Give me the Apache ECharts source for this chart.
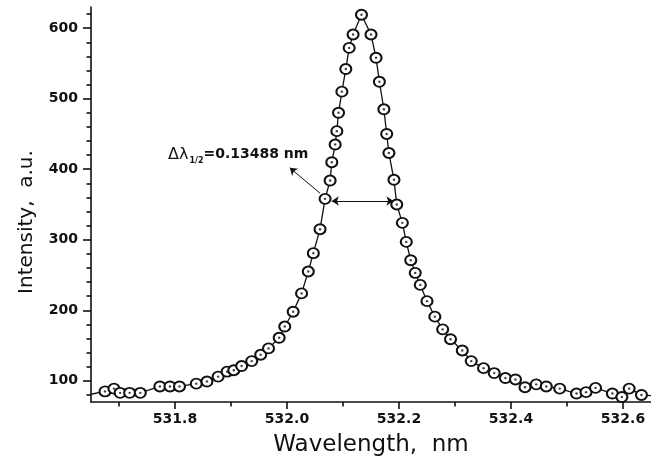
<!DOCTYPE html>
<html>
<head>
<meta charset="utf-8">
<script src="https://cdn.jsdelivr.net/npm/echarts@6/dist/echarts.min.js"></script>
<style>
  html, body { margin: 0; background: #fff; }
  #chart { width: 651px; height: 462px; }
</style>
</head>
<body>
<div id="chart"></div>
<script>
// measured spectrum points (nm, a.u.)
const wavelength = [
  531.675, 531.691, 531.702, 531.719, 531.738, 531.773, 531.791, 531.808, 531.838, 531.857,
  531.877, 531.893, 531.905, 531.919, 531.937, 531.953, 531.967, 531.986, 531.996, 532.011,
  532.026, 532.038, 532.047, 532.059, 532.068, 532.077, 532.080, 532.086, 532.089, 532.092,
  532.098, 532.105, 532.111, 532.118, 532.133, 532.150, 532.159, 532.165, 532.173, 532.178,
  532.182, 532.191, 532.196, 532.206, 532.213, 532.221, 532.229, 532.238, 532.250, 532.264,
  532.278, 532.292, 532.313, 532.329, 532.351, 532.370, 532.390, 532.408, 532.425, 532.445,
  532.463, 532.487, 532.517, 532.534, 532.551, 532.581, 532.598, 532.611, 532.633
];
const intensity = [
  85, 89, 83, 83, 83, 92, 92, 92, 96, 99,
  106, 113, 115, 121, 128, 137, 146, 161, 177, 198,
  224, 255, 281, 315, 358, 384, 410, 435, 454, 480,
  510, 542, 572, 591, 619, 591, 558, 524, 485, 450,
  423, 385, 350, 324, 297, 271, 253, 236, 213, 191,
  173, 159, 143, 128, 118, 111, 104, 102, 91, 95,
  92, 89, 82, 84, 90, 82, 77, 89, 80
];
// where the trace meets the frame on both sides
const traceStart = [531.65, 81];
const traceEnd = [532.65, 79];

const xLabelTicks = [531.8, 532.0, 532.2, 532.4, 532.6];
const xMinorTicks = [531.7, 531.9, 532.1, 532.3, 532.5];
const yLabelTicks = [100, 200, 300, 400, 500, 600];
const yMinorTicks = [80, 120, 140, 160, 180, 220, 240, 260, 280, 320, 340, 360, 380,
  420, 440, 460, 480, 520, 540, 560, 580, 620];

// half-maximum width marker and its note
const fwhmFrom = [532.080, 355];
const fwhmTo = [532.190, 355];
const pointerFrom = [532.059, 366];
const pointerTo = [532.005, 402];
const noteAt = [531.7875, 421];

const ink = '#111';
const font = 'DejaVu Sans';

const points = wavelength.map((w, i) => [w, intensity[i]]);
const traceData = [
  { value: traceStart, symbol: 'none' },
  ...points,
  { value: traceEnd, symbol: 'none' },
];

const chart = echarts.init(document.getElementById('chart'));

chart.setOption({
  animation: false,
  backgroundColor: '#fff',
  textStyle: { fontFamily: font, color: ink },
  grid: { left: 91, right: 0, top: 7, bottom: 56 },
  xAxis: [
    {
      type: 'value',
      min: 531.65,
      max: 532.65,
      name: 'Wavelength,  nm',
      nameLocation: 'middle',
      nameGap: 32,
      nameTextStyle: { fontFamily: font, fontSize: 23, color: ink },
      axisLine: { lineStyle: { color: ink, width: 1.6 } },
      axisTick: { customValues: xLabelTicks, length: 7, lineStyle: { color: ink, width: 1.6 } },
      axisLabel: {
        customValues: xLabelTicks,
        margin: 10,
        fontFamily: font,
        fontWeight: 'bold',
        fontSize: 14,
        color: ink,
        formatter: (v) => v.toFixed(1),
      },
      splitLine: { show: false },
    },
    {
      type: 'value',
      position: 'bottom',
      min: 531.65,
      max: 532.65,
      axisLine: { show: false },
      axisTick: { customValues: xMinorTicks, length: 4.5, lineStyle: { color: ink, width: 1.6 } },
      axisLabel: { show: false },
      splitLine: { show: false },
    },
  ],
  yAxis: [
    {
      type: 'value',
      position: 'left',
      min: 70,
      max: 630,
      name: 'Intensity,  a.u.',
      nameLocation: 'middle',
      nameGap: 54,
      nameTextStyle: { fontFamily: font, fontSize: 20, color: ink, padding: [0, 35, 0, 0] },
      axisLine: { show: true, lineStyle: { color: ink, width: 1.6 } },
      axisTick: { show: true, customValues: yLabelTicks, length: 8, lineStyle: { color: ink, width: 1.6 } },
      axisLabel: {
        customValues: yLabelTicks,
        margin: 13,
        fontFamily: font,
        fontWeight: 'bold',
        fontSize: 14,
        color: ink,
      },
      splitLine: { show: false },
    },
    {
      type: 'value',
      position: 'left',
      offset: 0,
      min: 70,
      max: 630,
      axisLine: { show: false },
      axisTick: { show: true, customValues: yMinorTicks, length: 4.5, lineStyle: { color: ink, width: 1.6 } },
      axisLabel: { show: false },
      splitLine: { show: false },
    },
  ],
  series: [
    {
      type: 'line',
      xAxisIndex: 0,
      yAxisIndex: 0,
      data: traceData,
      symbol: 'circle',
      symbolSize: [11, 10],
      showAllSymbol: true,
      lineStyle: { color: ink, width: 1.3 },
      itemStyle: { color: '#fff', borderColor: ink, borderWidth: 2 },
      emphasis: { disabled: true },
      markLine: {
        silent: true,
        animation: false,
        label: { show: false },
        emphasis: { disabled: true },
        lineStyle: { color: ink, width: 1, type: 'solid' },
        symbolSize: 7,
        data: [
          [
            { coord: fwhmFrom, symbol: 'arrow' },
            { coord: fwhmTo, symbol: 'arrow' },
          ],
          [
            { coord: pointerFrom, symbol: 'none' },
            { coord: pointerTo, symbol: 'arrow' },
          ],
        ],
      },
      markPoint: {
        silent: true,
        animation: false,
        symbol: 'circle',
        symbolSize: 0,
        data: [{ coord: noteAt }],
        label: {
          show: true,
          position: 'right',
          distance: 0,
          formatter: '{d|Δλ}{s|1/2}{b|=0.13488 nm}',
          rich: {
            d: { fontFamily: font, fontSize: 16, color: ink, lineHeight: 21, padding: [0, 1, 0, 0] },
            s: { fontFamily: font, fontSize: 8, fontWeight: 'bold', color: ink, lineHeight: 21, verticalAlign: 'bottom' },
            b: { fontFamily: font, fontSize: 14, fontWeight: 'bold', color: ink, lineHeight: 21 },
          },
        },
      },
    },
    {
      // centre dots inside the circles
      type: 'scatter',
      xAxisIndex: 0,
      yAxisIndex: 0,
      data: points,
      symbol: 'circle',
      symbolSize: 2.4,
      itemStyle: { color: ink },
      emphasis: { disabled: true },
      silent: true,
      z: 3,
    },
  ],
});
</script>
</body>
</html>
